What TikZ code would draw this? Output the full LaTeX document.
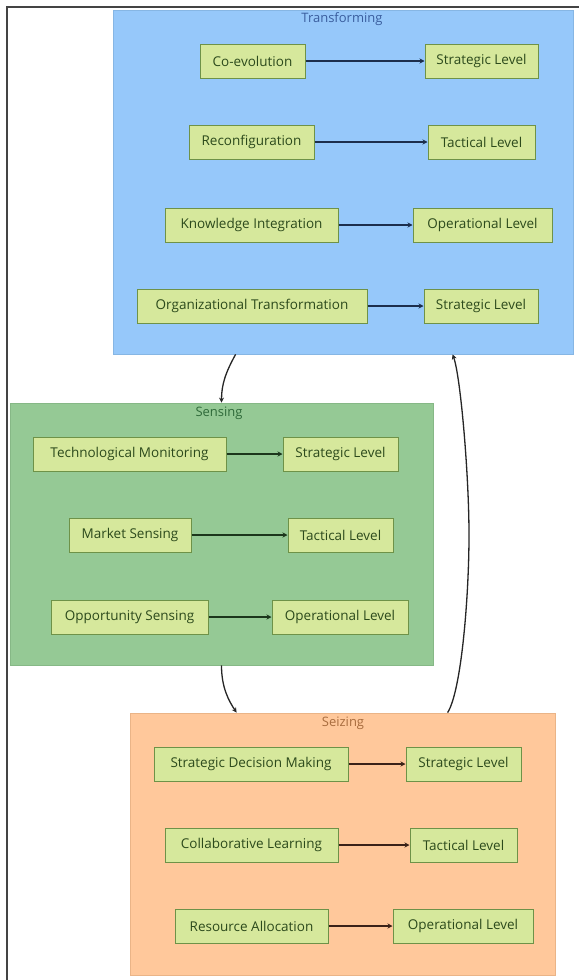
\documentclass[tikz,border=0pt]{standalone}
\usepackage{fontspec}
\setmainfont{Open Sans}
\usetikzlibrary{arrows.meta}
\definecolor{tfill}{HTML}{96C8FA}
\definecolor{tborder}{HTML}{86B6E4}
\definecolor{sfill}{HTML}{95C995}
\definecolor{sborder}{HTML}{86B886}
\definecolor{zfill}{HTML}{FFC89B}
\definecolor{zborder}{HTML}{EAB487}
\definecolor{nodefill}{HTML}{D6E89C}
\definecolor{nodeborder}{HTML}{6E9248}
\definecolor{nodetext}{HTML}{2C4A1C}
\definecolor{ttitle}{HTML}{3A5E9E}
\definecolor{stitle}{HTML}{2F6A3A}
\definecolor{ztitle}{HTML}{A86C3E}
\definecolor{tedge}{HTML}{1C2E4C}
\definecolor{sedge}{HTML}{1C361C}
\definecolor{zedge}{HTML}{3A2218}
\definecolor{frame}{HTML}{444444}
\tikzset{
  box/.style={draw=nodeborder, fill=nodefill, line width=1pt, minimum height=34, inner sep=0,
    text=nodetext, font=\fontsize{13.5}{15}\selectfont},
  cluster/.style={line width=0.8pt, inner sep=0},
  ctitle/.style={font=\fontsize{13}{14}\selectfont, inner sep=0},
  link/.style={line width=1.8pt, -{Stealth[length=5pt,width=5pt]}},
  flow/.style={line width=1.3pt, draw=black!85, -{Stealth[length=5pt,width=5pt]}},
}
\begin{document}
\begin{tikzpicture}[x=1pt, y=-1pt]
\useasboundingbox (0,0) rectangle (579,980);
\fill[white] (0,0) rectangle (579,980);
% frame lines
\draw[frame, line width=1.4pt] (7,980) -- (7,7) -- (579,7);
% clusters
\node[cluster, draw=tborder, fill=tfill, minimum width=460, minimum height=344] (T) at (343,182) {};
\node[cluster, draw=sborder, fill=sfill, minimum width=423, minimum height=262] (S) at (221.5,534) {};
\node[cluster, draw=zborder, fill=zfill, minimum width=425, minimum height=262] (Z) at (342.5,844) {};
\node[ctitle, text=ttitle] (Tt) at (342,19) {Transforming};
\node[ctitle, text=stitle] (St) at (219,413) {Sensing};
\node[ctitle, text=ztitle] (Zt) at (343,723) {Seizing};
% Transforming nodes
\node[box, minimum width=105] (t1) at (252.5,61) {Co-evolution};
\node[box, minimum width=113] (t1l) at (481.5,61) {Strategic Level};
\node[box, minimum width=125] (t2) at (251.5,142) {Reconfiguration};
\node[box, minimum width=107] (t2l) at (481.5,142) {Tactical Level};
\node[box, minimum width=173] (t3) at (251.5,225) {Knowledge Integration};
\node[box, minimum width=139] (t3l) at (482.5,225) {Operational Level};
\node[box, minimum width=230] (t4) at (252,306) {Organizational Transformation};
\node[box, minimum width=114] (t4l) at (481,306) {Strategic Level};
% Sensing nodes
\node[box, minimum width=193] (s1) at (129.5,454) {Technological Monitoring};
\node[box, minimum width=115] (s1l) at (340.5,454) {Strategic Level};
\node[box, minimum width=122] (s2) at (130,535) {Market Sensing};
\node[box, minimum width=105] (s2l) at (340.5,535) {Tactical Level};
\node[box, minimum width=157] (s3) at (129.5,617) {Opportunity Sensing};
\node[box, minimum width=136] (s3l) at (340,617) {Operational Level};
% Seizing nodes
\node[box, minimum width=194] (z1) at (251,764) {Strategic Decision Making};
\node[box, minimum width=115] (z1l) at (463.5,764) {Strategic Level};
\node[box, minimum width=173] (z2) at (251.5,845) {Collaborative Learning};
\node[box, minimum width=107] (z2l) at (463.5,845) {Tactical Level};
\node[box, minimum width=153] (z3) at (251.5,926) {Resource Allocation};
\node[box, minimum width=140] (z3l) at (463,926) {Operational Level};
% inner links
\foreach \a in {t1,t2,t3,t4} \draw[link, tedge] (\a) -- (\a l);
\foreach \a in {s1,s2,s3} \draw[link, sedge] (\a) -- (\a l);
\foreach \a in {z1,z2,z3} \draw[link, zedge] (\a) -- (\a l);
% cluster flows
\coordinate (mid) at (469,535);
\draw[flow] ([xshift=123]T.south west) .. controls +(-10,18) and +(0,-18) .. (S.north);
\draw[flow] (S.south) .. controls +(0,22) and +(-8,-12) .. ([xshift=107]Z.north west);
\draw[flow] ([xshift=318]Z.north west) .. controls +(14,-22) and +(0,60) .. (mid)
  .. controls +(0,-60) and +(8,22) .. ([xshift=340]T.south west);
\end{tikzpicture}
\end{document}
